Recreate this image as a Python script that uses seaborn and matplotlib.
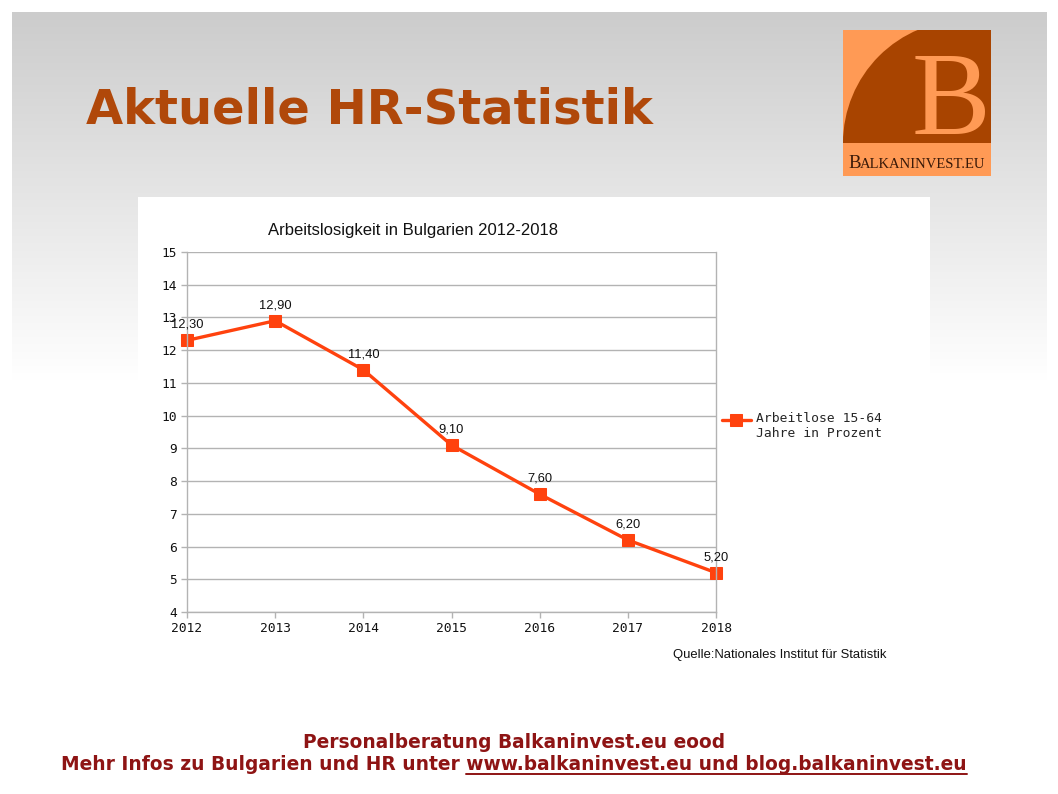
import numpy as np
import pandas as pd
import matplotlib

matplotlib.use("Agg")
import matplotlib.pyplot as plt
import seaborn as sns
from matplotlib.patches import Rectangle, Circle
from matplotlib.lines import Line2D

# Data
years = [2012, 2013, 2014, 2015, 2016, 2017, 2018]
rate = [12.3, 12.9, 11.4, 9.1, 7.6, 6.2, 5.2]
series_name = "Arbeitlose 15-64\nJahre in Prozent"
chart_title = "Arbeitslosigkeit in Bulgarien 2012-2018"
slide_title = "Aktuelle HR-Statistik"
source_note = "Quelle:Nationales Institut für Statistik"
footer_1 = "Personalberatung Balkaninvest.eu eood"
footer_2 = "Mehr Infos zu Bulgarien und HR unter www.balkaninvest.eu und blog.balkaninvest.eu"
footer_link = "www.balkaninvest.eu und blog.balkaninvest.eu"

df = pd.DataFrame({"year": years, "rate": rate})

sns.set_theme(style="white")
W, H = 1058, 794
fig = plt.figure(figsize=(W / 100, H / 100), dpi=100)


def fx(px):
    return px / W


def fy(py):
    return 1 - py / H


# slide background with gradient
bg = fig.add_axes([0, 0, 1, 1])
img = np.ones((H, W, 3))
rows = np.arange(H)
g = np.clip(0.80 + 0.20 * (rows - 12) / (380 - 12), 0.80, 1.0)
g[rows > 380] = 1.0
img[12:, 12:1047, :] = g[12:, None, None]
bg.imshow(img, aspect="auto", extent=[0, W, H, 0])
bg.set_xlim(0, W)
bg.set_ylim(H, 0)
bg.axis("off")

# white chart panel
bg.add_patch(Rectangle((138, 197), 792, 471, facecolor="white", edgecolor="none"))

# slide title
bg.text(86, 124, slide_title, fontsize=34.6, fontweight="bold", color="#B0480A",
        family="DejaVu Sans", va="baseline", ha="left")

# footer
red = "#8E1414"
foot_size = 13.4
bg.text(514, 742, footer_1, fontsize=foot_size, fontweight="bold", color=red,
        family="DejaVu Sans", ha="center", va="center")
t2 = bg.text(514, 765, footer_2, fontsize=foot_size, fontweight="bold", color=red,
             family="DejaVu Sans", ha="center", va="center")

# logo
lg = fig.add_axes([fx(843), fy(176), fx(148), 146 / H])
lg.set_xlim(0, 148)
lg.set_ylim(146, 0)
lg.axis("off")
lg.add_patch(Rectangle((0, 0), 148, 146, facecolor="#FF9A55", edgecolor="none"))
wedge = Circle((123, 113), 123, facecolor="#A84400", edgecolor="none")
lg.add_patch(wedge)
wedge.set_clip_path(Rectangle((0, 0), 148, 113, transform=lg.transData))
lg.text(108, 104, "B", fontsize=85, family="Liberation Serif", color="#FF9A55",
        ha="center", va="baseline")
lg.text(5, 138, "B", fontsize=13.5, family="Liberation Serif", color="#3A1A08",
        ha="left", va="baseline")
lg.text(16.5, 138, "ALKANINVEST.EU", fontsize=10.5, family="Liberation Serif",
        color="#3A1A08", ha="left", va="baseline")

# chart
ax = fig.add_axes([fx(187), fy(612), fx(716 - 187), (612 - 252) / H])
line_color = "#FF420E"
sns.lineplot(data=df, x="year", y="rate", ax=ax, color=line_color, linewidth=2.4,
             marker="s", markersize=8.5, markeredgecolor=line_color,
             label=series_name)

for x, y in zip(years, rate):
    ax.annotate(f"{y:.2f}".replace(".", ","), (x, y), xytext=(0, 7),
                textcoords="offset points", ha="center", va="bottom",
                fontsize=9.3, family="Liberation Sans", color="#111111")

ax.set_xlim(2012, 2018)
ax.set_ylim(4, 15)
ax.set_xticks(years)
ax.set_yticks(range(4, 16))
ax.set_xlabel("")
ax.set_ylabel("")
ax.grid(axis="y", color="#B3B3B3", linewidth=1)
ax.set_axisbelow(True)
for side in ["left", "right", "bottom"]:
    ax.spines[side].set_color("#B3B3B3")
    ax.spines[side].set_linewidth(1)
ax.spines["top"].set_visible(False)
ax.tick_params(axis="both", which="both", length=4, width=1, color="#B3B3B3",
               labelsize=9.3, labelcolor="#111111", pad=3)
ax.tick_params(left=True, bottom=True)
for lab in ax.get_xticklabels() + ax.get_yticklabels():
    lab.set_family("DejaVu Sans Mono")
ax.set_facecolor("none")
for child in ax.get_lines():
    child.set_clip_on(False)

fig.text(fx(413), fy(231), chart_title, fontsize=12, family="Liberation Sans",
         color="#111111", ha="center", va="center")

leg = ax.legend(loc="upper left", bbox_to_anchor=(fx(722), fy(412)),
                bbox_transform=fig.transFigure, frameon=False,
                prop={"family": "DejaVu Sans Mono", "size": 9.4},
                handlelength=2.2, handletextpad=0.4, borderaxespad=0,
                borderpad=0, labelspacing=0)
# put the legend key level with the first line of the label
for ln in leg.get_lines():
    ln.set_ydata(np.asarray(ln.get_ydata()) + 4.8)

fig.text(fx(886), fy(655), source_note, fontsize=9.4, family="Liberation Sans",
         ha="right", va="center", color="#111111")

# underline for the link part of the footer
fig.canvas.draw()
r = fig.canvas.get_renderer()
full_bb = t2.get_window_extent(r)
tmp = bg.text(0, 0, footer_link, fontsize=foot_size, fontweight="bold",
              family="DejaVu Sans")
link_w = tmp.get_window_extent(r).width
tmp.remove()
x1 = full_bb.x1 / W
x0 = (full_bb.x1 - link_w) / W
yu = (full_bb.y0 + 1) / H
fig.add_artist(Line2D([x0, x1], [yu, yu], transform=fig.transFigure,
                      color=red, linewidth=1.4))

fig.savefig("out.png", dpi=100)
